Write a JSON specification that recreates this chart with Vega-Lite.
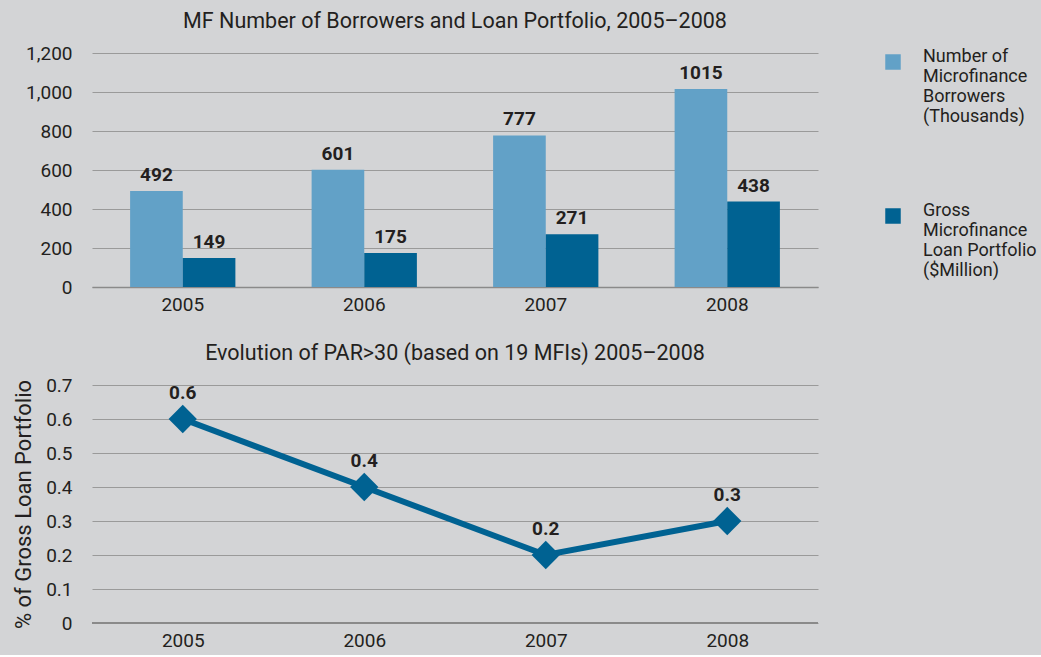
{
  "$schema": "https://vega.github.io/schema/vega-lite/v6.json",
  "background": "#d3d4d6",
  "padding": {"left": 12, "top": 10, "right": 20, "bottom": 5},
  "spacing": 28,
  "config": {
    "font": "Roboto",
    "view": {"stroke": null},
    "axis": {"labelFont": "Roboto", "labelFontSize": 19, "labelColor": "#231f20", "titleFont": "Roboto", "titleColor": "#231f20", "gridColor": "#9a9a9a", "domain": false, "ticks": false},
    "title": {"font": "Roboto", "fontSize": 21.5, "fontWeight": "normal", "color": "#231f20"}
  },
  "datasets": {
    "bars": [
      {"year": "2005", "series": "Number of|Microfinance|Borrowers|(Thousands)", "value": 492},
      {"year": "2005", "series": "Gross|Microfinance|Loan Portfolio|($Million)", "value": 149},
      {"year": "2006", "series": "Number of|Microfinance|Borrowers|(Thousands)", "value": 601},
      {"year": "2006", "series": "Gross|Microfinance|Loan Portfolio|($Million)", "value": 175},
      {"year": "2007", "series": "Number of|Microfinance|Borrowers|(Thousands)", "value": 777},
      {"year": "2007", "series": "Gross|Microfinance|Loan Portfolio|($Million)", "value": 271},
      {"year": "2008", "series": "Number of|Microfinance|Borrowers|(Thousands)", "value": 1015},
      {"year": "2008", "series": "Gross|Microfinance|Loan Portfolio|($Million)", "value": 438}
    ],
    "par": [
      {"year": "2005", "par": 0.6},
      {"year": "2006", "par": 0.4},
      {"year": "2007", "par": 0.2},
      {"year": "2008", "par": 0.3}
    ]
  },
  "vconcat": [
    {
      "title": {"text": "MF Number of Borrowers and Loan Portfolio, 2005–2008", "anchor": "middle", "offset": 12},
      "width": 726,
      "height": 234,
      "data": {"name": "bars"},
      "encoding": {
        "x": {"field": "year", "type": "nominal", "scale": {"paddingInner": 0.42, "paddingOuter": 0.21}, "axis": {"title": null, "labelAngle": 0, "labelPadding": 8, "domain": true, "domainColor": "#8a8a8a", "domainWidth": 1.5}},
        "xOffset": {"field": "series", "type": "nominal", "sort": ["Number of|Microfinance|Borrowers|(Thousands)", "Gross|Microfinance|Loan Portfolio|($Million)"]},
        "y": {"field": "value", "type": "quantitative", "scale": {"domain": [0, 1200]}, "axis": {"title": null, "values": [0, 200, 400, 600, 800, 1000, 1200], "labelPadding": 20, "format": ",d"}}
      },
      "layer": [
        {
          "mark": {"type": "bar"},
          "encoding": {
            "color": {"field": "series", "type": "nominal", "sort": ["Number of|Microfinance|Borrowers|(Thousands)", "Gross|Microfinance|Loan Portfolio|($Million)"], "scale": {"range": ["#62a1c7", "#006292"]},
              "legend": {"title": null, "orient": "right", "offset": 65, "symbolType": "square", "symbolSize": 240, "symbolStrokeWidth": 0, "labelFont": "Roboto", "labelFontSize": 18, "labelColor": "#231f20", "labelExpr": "split(datum.label, '|')", "labelLimit": 200, "rowPadding": 76, "labelOffset": 21, "labelBaseline": "alphabetic"}}
          }
        },
        {
          "mark": {"type": "text", "baseline": "bottom", "dy": -6, "fontSize": 19, "fontWeight": "bold", "color": "#231f20"},
          "encoding": {"text": {"field": "value", "type": "quantitative", "format": "d"}}
        }
      ]
    },
    {
      "title": {"text": "Evolution of PAR>30 (based on 19 MFIs) 2005–2008", "anchor": "middle", "offset": 12},
      "width": 726,
      "height": 238,
      "data": {"name": "par"},
      "encoding": {
        "x": {"field": "year", "type": "ordinal", "scale": {"type": "point", "padding": 0.5}, "axis": {"title": null, "labelAngle": 0, "labelPadding": 8}},
        "y": {"field": "par", "type": "quantitative", "scale": {"domain": [0, 0.7]}, "axis": {"title": "% of Gross Loan Portfolio", "titleFontSize": 22, "titleFontWeight": "normal", "titlePadding": 10, "values": [0, 0.1, 0.2, 0.3, 0.4, 0.5, 0.6, 0.7], "format": "~g", "labelPadding": 20}}
      },
      "layer": [
        {"mark": {"type": "rule", "color": "#8a8a8a", "strokeWidth": 2}, "encoding": {"y": {"datum": 0}, "x": {"value": 0}, "x2": {"value": 726}}},
        {"mark": {"type": "line", "color": "#006292", "strokeWidth": 6}},
        {"mark": {"type": "point", "shape": "diamond", "size": 800, "filled": true, "color": "#006292", "opacity": 1}},
        {"mark": {"type": "text", "baseline": "bottom", "dy": -16, "fontSize": 19, "fontWeight": "bold", "color": "#231f20"}, "encoding": {"text": {"field": "par", "type": "quantitative", "format": ".1f"}}}
      ]
    }
  ]
}
